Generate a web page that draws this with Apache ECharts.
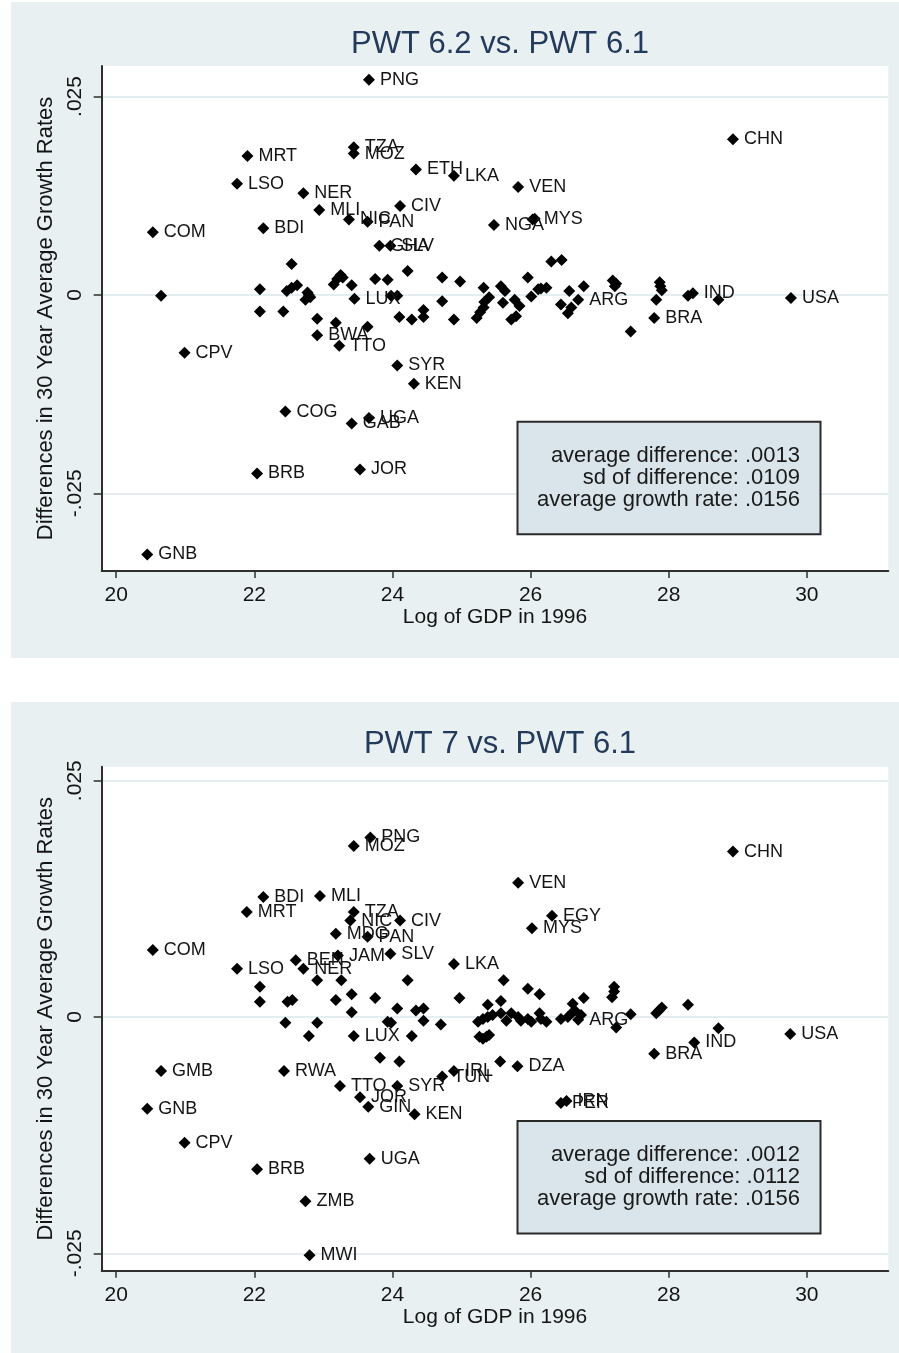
<!DOCTYPE html>
<html>
<head>
<meta charset="utf-8">
<title>PWT growth rate differences</title>
<script src="https://cdn.jsdelivr.net/npm/echarts/dist/echarts.min.js"></script>
<style>
  html, body { margin: 0; padding: 0; background: #fff; }
  #chart { width: 899px; height: 1353px; }
</style>
</head>
<body>
<div id="chart"></div>
<script>
// panel titles and the summary boxes
var topTitle = "PWT 6.2 vs. PWT 6.1";
var bottomTitle = "PWT 7 vs. PWT 6.1";
var topStats = ["average difference: .0013", "sd of difference: .0109", "average growth rate: .0156"];
var bottomStats = ["average difference: .0012", "sd of difference: .0112", "average growth rate: .0156"];

// tick values
var xTicks = [20, 22, 24, 26, 28, 30];
var yTicks = [-0.025, 0, 0.025];

// [country, log GDP 1996, difference in 30y avg growth]
var pwt62Points = [
  ["PNG", 23.66, 0.0271], ["CHN", 28.93, 0.0196], ["TZA", 23.44, 0.0186], ["MOZ", 23.44, 0.0178],
  ["MRT", 21.90, 0.0175], ["ETH", 24.34, 0.0158], ["LKA", 24.89, 0.0150], ["LSO", 21.75, 0.0140],
  ["VEN", 25.82, 0.0136], ["NER", 22.71, 0.0128], ["CIV", 24.11, 0.0112], ["MLI", 22.94, 0.0107],
  ["NIC", 23.37, 0.0095], ["PAN", 23.64, 0.0092], ["MYS", 26.03, 0.0095], ["NGA", 25.47, 0.0088],
  ["BDI", 22.13, 0.0084], ["COM", 20.53, 0.0079], ["GHA", 23.81, 0.0062], ["SLV", 23.97, 0.0062],
  ["LUX", 23.45, -0.0005], ["ARG", 26.69, -0.0006], ["IND", 28.35, 0.0002], ["USA", 29.77, -0.0004],
  ["BRA", 27.79, -0.0029], ["BWA", 22.91, -0.0051], ["TTO", 23.23, -0.0064], ["CPV", 20.99, -0.0073],
  ["SYR", 24.07, -0.0089], ["KEN", 24.31, -0.0112], ["COG", 22.45, -0.0147], ["UGA", 23.66, -0.0155],
  ["GAB", 23.41, -0.0162], ["JOR", 23.53, -0.0220], ["BRB", 22.04, -0.0225], ["GNB", 20.45, -0.0327],
  ["", 20.65, -0.0001], ["", 22.08, 0.0007], ["", 22.08, -0.0021], ["", 22.42, -0.0021],
  ["", 22.47, 0.0005], ["", 22.54, 0.0009], ["", 22.62, 0.0012], ["", 22.54, 0.0039],
  ["", 22.74, -0.0006], ["", 22.79, 0.0000], ["", 22.81, -0.0003], ["", 22.77, 0.0003],
  ["", 22.91, -0.0030], ["", 23.18, -0.0035], ["", 23.64, -0.0040], ["", 23.15, 0.0013],
  ["", 23.20, 0.0020], ["", 23.25, 0.0025], ["", 23.28, 0.0022], ["", 23.41, 0.0012],
  ["", 23.75, 0.0020], ["", 23.93, 0.0019], ["", 24.22, 0.0030], ["", 23.98, -0.0001],
  ["", 24.07, -0.0001], ["", 24.10, -0.0028], ["", 24.28, -0.0031], ["", 24.45, -0.0028],
  ["", 24.45, -0.0019], ["", 24.72, 0.0022], ["", 24.72, -0.0008], ["", 24.98, 0.0017],
  ["", 24.89, -0.0031], ["", 25.32, 0.0009], ["", 25.40, -0.0003], ["", 25.33, -0.0009],
  ["", 25.27, -0.0022], ["", 25.22, -0.0029], ["", 25.32, -0.0016], ["", 25.57, 0.0011],
  ["", 25.63, 0.0005], ["", 25.60, -0.0010], ["", 25.77, -0.0006], ["", 25.84, -0.0014],
  ["", 25.72, -0.0031], ["", 25.79, -0.0027], ["", 25.96, 0.0022], ["", 26.01, -0.0002],
  ["", 26.11, 0.0007], ["", 26.15, 0.0008], ["", 26.23, 0.0009], ["", 26.30, 0.0042],
  ["", 26.45, 0.0044], ["", 26.44, -0.0012], ["", 26.56, 0.0005], ["", 26.54, -0.0023],
  ["", 26.59, -0.0016], ["", 26.77, 0.0011], ["", 27.19, 0.0018], ["", 27.24, 0.0014],
  ["", 27.22, 0.0011], ["", 27.45, -0.0046], ["", 27.87, 0.0016], ["", 27.88, 0.0011],
  ["", 27.90, 0.0006], ["", 27.82, -0.0006], ["", 28.28, -0.0001], ["", 28.72, -0.0006],
  ["", 26.06, 0.0096]
];

var pwt7Points = [
  ["PNG", 23.68, 0.0190], ["MOZ", 23.44, 0.0181], ["CHN", 28.93, 0.0175], ["VEN", 25.82, 0.0142],
  ["BDI", 22.13, 0.0127], ["MLI", 22.95, 0.0128], ["MRT", 21.89, 0.0111], ["TZA", 23.44, 0.0111],
  ["EGY", 26.31, 0.0107], ["NIC", 23.39, 0.0102], ["CIV", 24.11, 0.0102], ["MYS", 26.02, 0.0094],
  ["MDG", 23.18, 0.0088], ["PAN", 23.64, 0.0085], ["COM", 20.53, 0.0071], ["SLV", 23.97, 0.0067],
  ["JAM", 23.21, 0.0065], ["BEN", 22.60, 0.0060], ["LKA", 24.89, 0.0056], ["LSO", 21.75, 0.0051],
  ["NER", 22.71, 0.0051], ["LUX", 23.44, -0.0020], ["ARG", 26.69, -0.0003], ["IND", 28.37, -0.0027],
  ["USA", 29.76, -0.0018], ["BRA", 27.79, -0.0039], ["DZA", 25.81, -0.0052], ["GMB", 20.65, -0.0057],
  ["RWA", 22.43, -0.0057], ["IRL", 24.89, -0.0057], ["TUN", 24.72, -0.0063], ["TTO", 23.24, -0.0073],
  ["SYR", 24.07, -0.0073], ["JOR", 23.53, -0.0085], ["PER", 26.44, -0.0091], ["IRN", 26.52, -0.0089],
  ["GIN", 23.65, -0.0095], ["GNB", 20.45, -0.0097], ["KEN", 24.32, -0.0103], ["CPV", 20.99, -0.0133],
  ["UGA", 23.67, -0.0150], ["BRB", 22.04, -0.0161], ["ZMB", 22.74, -0.0195], ["MWI", 22.80, -0.0252],
  ["", 22.91, 0.0039], ["", 23.26, 0.0039], ["", 24.22, 0.0039], ["", 22.08, 0.0032],
  ["", 22.08, 0.0016], ["", 22.48, 0.0016], ["", 22.55, 0.0018], ["", 23.18, 0.0018],
  ["", 23.41, 0.0024], ["", 23.41, 0.0005], ["", 23.75, 0.0020], ["", 24.07, 0.0009],
  ["", 24.34, 0.0007], ["", 24.45, 0.0009], ["", 24.97, 0.0020], ["", 22.45, -0.0006],
  ["", 22.91, -0.0006], ["", 22.79, -0.0020], ["", 23.93, -0.0005], ["", 23.98, -0.0006],
  ["", 24.28, -0.0020], ["", 24.45, -0.0004], ["", 24.70, -0.0008], ["", 25.24, -0.0005],
  ["", 25.26, -0.0021], ["", 23.82, -0.0043], ["", 24.10, -0.0047], ["", 25.61, 0.0039],
  ["", 25.96, 0.0030], ["", 26.13, 0.0024], ["", 25.38, 0.0013], ["", 25.57, 0.0017],
  ["", 27.21, 0.0032], ["", 27.21, 0.0027], ["", 27.18, 0.0021], ["", 26.77, 0.0020],
  ["", 26.61, 0.0014], ["", 26.64, 0.0007], ["", 27.90, 0.0010], ["", 27.86, 0.0007],
  ["", 27.82, 0.0004], ["", 28.28, 0.0013], ["", 27.45, 0.0003], ["", 27.24, -0.0011],
  ["", 28.72, -0.0012], ["", 25.31, -0.0002], ["", 25.38, 0.0000], ["", 25.45, 0.0002],
  ["", 25.57, 0.0004], ["", 25.65, -0.0004], ["", 25.72, 0.0004], ["", 25.82, 0.0000],
  ["", 25.86, -0.0004], ["", 25.96, -0.0002], ["", 26.01, -0.0005], ["", 26.13, 0.0004],
  ["", 26.15, -0.0002], ["", 26.23, -0.0005], ["", 26.44, -0.0002], ["", 26.54, 0.0000],
  ["", 26.61, 0.0005], ["", 26.73, 0.0002], ["", 25.36, -0.0021], ["", 25.31, -0.0023],
  ["", 25.40, -0.0019], ["", 25.56, -0.0047]
];

var font = '"Liberation Sans", Arial, sans-serif';
var textColor = "#141414";
var axisColor = "#2e2e2e";

function yLabel(v) {
  if (Math.abs(v) < 1e-9) return "0";
  var s = Math.abs(v).toFixed(3).replace(/^0/, "");
  return (v < 0 ? "-" : "") + s;
}

function makeX(gridIndex) {
  return {
    type: "value",
    gridIndex: gridIndex,
    min: 19.79,
    max: 31.18,
    name: "Log of GDP in 1996",
    nameLocation: "middle",
    nameGap: 34,
    nameTextStyle: { fontSize: 21, color: textColor, fontFamily: font },
    axisLine: { show: true, onZero: false, lineStyle: { color: axisColor, width: 2 } },
    axisTick: { show: true, length: 7, customValues: xTicks, lineStyle: { color: axisColor, width: 1.5 } },
    axisLabel: { customValues: xTicks, margin: 14, fontSize: 21, color: textColor, fontFamily: font },
    splitLine: { show: false }
  };
}

function makeY(gridIndex, min, max) {
  return {
    type: "value",
    gridIndex: gridIndex,
    min: min,
    max: max,
    name: "Differences in 30 Year Average Growth Rates",
    nameLocation: "middle",
    nameGap: 44,
    nameTextStyle: { fontSize: 22, color: textColor, fontFamily: font },
    axisLine: { show: true, onZero: false, lineStyle: { color: axisColor, width: 2 } },
    axisTick: { show: true, length: 8, customValues: yTicks, lineStyle: { color: axisColor, width: 1.5 } },
    axisLabel: {
      customValues: yTicks, rotate: 90, margin: 16, fontSize: 21, color: textColor,
      fontFamily: font, formatter: yLabel
    },
    // gridlines follow the custom tick values
    splitLine: { show: true, lineStyle: { color: "#e4eef1", width: 2 } }
  };
}

function makeSeries(points, idx) {
  return {
    type: "scatter",
    xAxisIndex: idx,
    yAxisIndex: idx,
    symbol: "diamond",
    symbolSize: 12,
    itemStyle: { color: "#000", opacity: 1 },
    label: {
      show: true, position: "right", distance: 5, formatter: "{b}",
      fontSize: 18, color: textColor, fontFamily: font
    },
    data: points.map(function (p) { return { name: p[0], value: [p[1], p[2]] }; })
  };
}

function statBox(y, lines) {
  return [
    {
      type: "rect", z: 20,
      shape: { x: 517.5, y: y, width: 303, height: 112.5 },
      style: { fill: "#d9e5eb", stroke: "#2a2a2a", lineWidth: 2 }
    },
    {
      type: "text", z: 21, x: 800, y: y + 56,
      style: {
        text: lines.join("\n"), align: "right", verticalAlign: "middle",
        font: '22px "Liberation Sans", Arial, sans-serif', lineHeight: 22, fill: "#1a1a1a"
      }
    }
  ];
}

var chart = echarts.init(document.getElementById("chart"));
chart.setOption({
  animation: false,
  backgroundColor: "#e8f0f2",
  title: [
    { text: topTitle, left: 495, top: 24, textAlign: "center",
      textStyle: { fontSize: 31, fontWeight: "normal", color: "#243a5a", fontFamily: font } },
    { text: bottomTitle, left: 495, top: 724, textAlign: "center",
      textStyle: { fontSize: 31, fontWeight: "normal", color: "#243a5a", fontFamily: font } }
  ],
  grid: [
    { left: 101.7, top: 66, width: 786.6, height: 505, show: true, backgroundColor: "#fff", borderWidth: 0 },
    { left: 101.7, top: 766.7, width: 786.6, height: 504, show: true, backgroundColor: "#fff", borderWidth: 0 }
  ],
  xAxis: [makeX(0), makeX(1)],
  yAxis: [makeY(0, -0.03479, 0.02884), makeY(1, -0.02684, 0.02648)],
  series: [makeSeries(pwt62Points, 0), makeSeries(pwt7Points, 1)],
  graphic: [
    // white margins around the two panels
    { type: "rect", z: -1, shape: { x: 0, y: 0, width: 899, height: 2 }, style: { fill: "#fff" } },
    { type: "rect", z: -1, shape: { x: 0, y: 0, width: 11, height: 1353 }, style: { fill: "#fff" } },
    { type: "rect", z: -1, shape: { x: 0, y: 658, width: 899, height: 44 }, style: { fill: "#fff" } }
  ].concat(statBox(421.7, topStats), statBox(1121, bottomStats))
});
</script>
</body>
</html>
